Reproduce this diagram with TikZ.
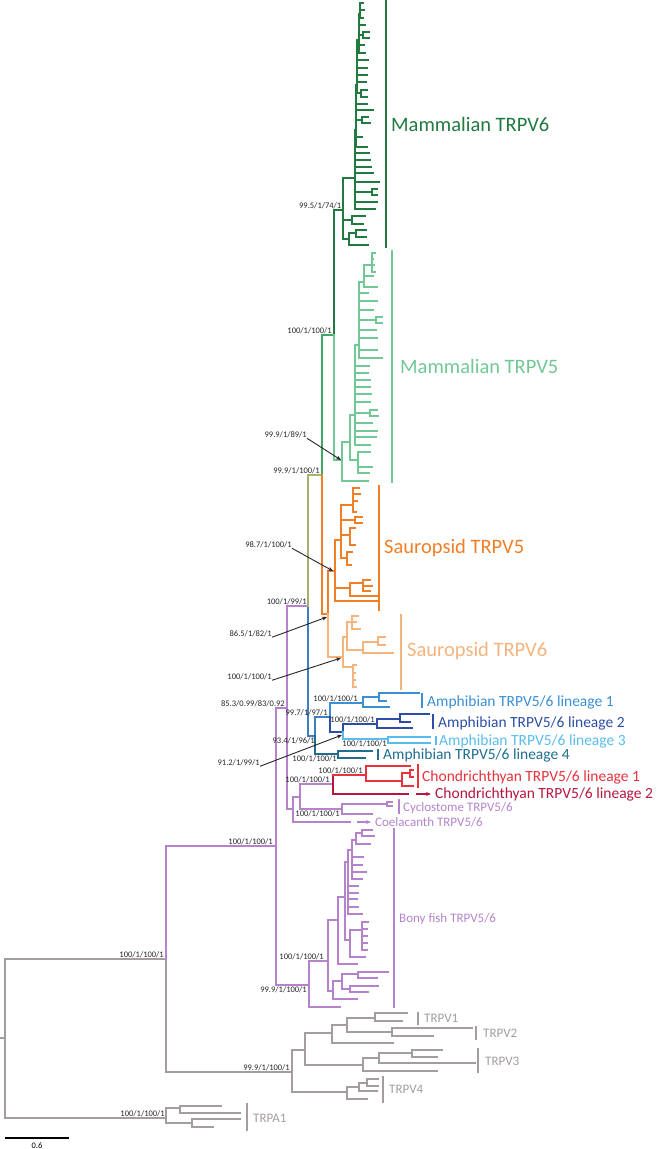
\documentclass[tikz,border=0pt]{standalone}
\usepackage{fontspec}
\setmainfont{Carlito}
\usetikzlibrary{arrows.meta, positioning, calc}

\definecolor{mamvsix}{HTML}{217A3F}
\definecolor{mamstem}{HTML}{3FA665}
\definecolor{mamvfive}{HTML}{72C895}
\definecolor{amnstem}{HTML}{A9B06F}
\definecolor{saurvfive}{HTML}{F07F28}
\definecolor{saurvsix}{HTML}{F5B47E}
\definecolor{amphstem}{HTML}{3B80C3}
\definecolor{amphone}{HTML}{3A8FD5}
\definecolor{amphtwo}{HTML}{2D4EA6}
\definecolor{amphthree}{HTML}{58BDEE}
\definecolor{amphfour}{HTML}{1F6E8E}
\definecolor{chonone}{HTML}{E8323C}
\definecolor{chontwo}{HTML}{B5173F}
\definecolor{fishpurple}{HTML}{B583CC}
\definecolor{outgray}{HTML}{A39CA0}

\begin{document}
\begin{tikzpicture}[x=1pt, y=-1pt, >=Stealth,
  br/.style={line width=1.3pt, line cap=rect},
  cbar/.style={line width=2.3pt},
  clade/.style={anchor=base west, inner sep=0pt},
  cladebig/.style={clade, font=\fontsize{20.5}{22}\selectfont},
  clademid/.style={clade, font=\fontsize{15.5}{18}\selectfont},
  cladesmall/.style={clade, font=\fontsize{13}{15}\selectfont},
  bsup/.style={anchor=base east, inner sep=0pt, text=black!85, font=\fontsize{8.5}{9}\selectfont},
  bsdown/.style={bsup, anchor=north east},
  ptr/.style={-{Stealth[length=5pt, width=4pt]}, line width=0.9pt, black!85},
  cptr/.style={-{Stealth[length=5pt, width=4pt]}, line width=1.3pt}]
  \useasboundingbox (0,0) rectangle (658,1149);

  % outgroups: TRPV1-4 and TRPA1
  \foreach \xa/\ya/\yb in {5/959/1118, 166/959/1072, 292/1050/1092, 305/1033/1065, 332/1025/1043,
      347/1018/1032, 375/1013/1021, 392/1028/1036, 363/1058/1071, 379/1053/1063, 412/1050/1057,
      347/1087/1099, 359/1083/1091, 367/1079/1086, 166/1108/1123, 180/1106/1113, 192/1119/1127}
    \draw[br, outgray] (\xa,\ya) -- (\xa,\yb);
  \foreach \xa/\yy/\xb in {0/1038/5, 5/959/166, 5/1118/166, 166/1072/292, 292/1050/305, 305/1033/332,
      332/1025/347, 347/1018/375, 375/1013/407, 375/1021/402, 347/1032/392, 392/1028/472, 392/1036/433,
      332/1043/393, 305/1065/363, 363/1058/379, 379/1053/412, 412/1050/442, 412/1057/437, 379/1063/475,
      363/1071/437, 292/1092/347, 347/1087/359, 359/1083/367, 367/1079/378, 367/1086/378, 359/1091/377,
      347/1099/367, 166/1108/180, 180/1106/221, 180/1113/240, 166/1123/192, 192/1119/240, 192/1127/213}
    \draw[br, outgray] (\xa,\yy) -- (\xb,\yy);

  % vertebrate TRPV5/6 backbone, cyclostome, coelacanth, bony fish
  \foreach \xa/\ya/\yb in {166/846/959, 276/708/985, 287/606/809, 293/797/822, 300/784/809, 342/804/814,
      387/802/806, 309/961/1007, 328/920/991, 333/981/999, 342/974/989, 358/972/978, 350/986/992,
      338/897/964, 345/862/940, 350/930/957, 362/922/950, 348/850/914, 352/840/879, 356/833/844, 362/830/836}
    \draw[br, fishpurple] (\xa,\ya) -- (\xa,\yb);
  \foreach \xa/\yy/\xb in {166/846/276, 276/708/287, 287/606/308, 287/809/293, 293/797/300, 293/822/350,
      300/784/333, 300/809/342, 342/804/387, 387/802/392, 387/806/392, 342/814/372, 276/985/309,
      309/1007/340, 309/961/328, 328/991/333, 333/999/357, 333/981/342, 342/974/358, 358/972/388,
      358/978/377, 342/989/350, 350/986/378, 350/992/368,
      328/920/338, 338/964/357, 338/897/345, 345/862/348, 345/940/350, 350/930/362, 350/957/365,
      362/922/368, 362/929/367, 362/936/367, 362/943/367, 362/950/367, 348/850/352, 348/886/358,
      348/893/358, 348/899/357, 348/907/358, 348/914/362, 352/840/356, 352/857/363, 352/865/362,
      352/872/366, 352/879/362, 356/833/362, 356/844/370, 362/830/372, 362/836/374}
    \draw[br, fishpurple] (\xa,\yy) -- (\xb,\yy);

  % chondrichthyans
  \draw[br, chontwo] (333,775) -- (333,794) (333,794) -- (408,794);
  \draw[cptr, chontwo] (416,794) -- (431,794);
  \foreach \xa/\ya/\yb in {366/766/781, 402/773/786, 410/770/777}
    \draw[br, chonone] (\xa,\ya) -- (\xa,\yb);
  \foreach \xa/\yy/\xb in {333/775/366, 366/766/410, 366/781/402, 402/773/410, 410/770/413, 410/777/413, 402/786/413}
    \draw[br, chonone] (\xa,\yy) -- (\xb,\yy);

  % amphibians
  \draw[br, amphstem] (308,606) -- (308,736) (308,736) -- (315,736) (315,717) -- (315,736) (315,717) -- (330,717);
  \draw[br, amphfour] (315,736) -- (315,754) (315,754) -- (338,754) (338,751) -- (338,758)
    (338,751) -- (372,751) (338,758) -- (365,758);
  \draw[br, amphone] (330,703) -- (330,717) (330,703) -- (363,703) (363,697) -- (363,707) (363,697) -- (379,697)
    (379,693) -- (379,701) (379,693) -- (419,693) (379,701) -- (386,701) (363,707) -- (389,707);
  \draw[br, amphtwo] (330,717) -- (330,732) (330,732) -- (343,732) (343,724) -- (343,732) (343,724) -- (377,724)
    (377,719) -- (377,728) (377,719) -- (400,719) (400,714) -- (400,722) (400,714) -- (429,714)
    (400,722) -- (410,722) (377,728) -- (412,728);
  \draw[br, amphthree] (343,732) -- (343,739) (343,739) -- (388,739) (388,737) -- (388,743)
    (388,737) -- (430,737) (388,743) -- (430,743);

  % amniote stem
  \draw[br, amnstem] (308,475) -- (308,606) (308,475) -- (322,475);
  \draw[br, mamstem] (322,335) -- (322,475) (322,335) -- (334,335);
  \draw[br, saurvfive] (322,475) -- (322,614) (322,614) -- (328,614) (328,571) -- (328,614);
  \draw[br, saurvsix] (328,614) -- (328,657);

  % mammalian TRPV6
  \foreach \xa/\ya/\yb in {334/210/335, 343/178/239, 349/233/245, 356/230/237, 352/216/224, 355/130/209,
      372/189/195, 356/85/147, 362/117/123, 357/40/93, 361/90/97, 359/14/53, 363/32/38, 360/3/18}
    \draw[br, mamvsix] (\xa,\ya) -- (\xa,\yb);
  \foreach \xa/\yy/\xb in {334/210/343, 343/239/349, 349/233/356, 356/230/366, 356/237/366, 349/245/368,
      343/220/352, 352/216/365, 352/224/363, 343/178/355, 355/130/356, 355/153/369, 355/160/370,
      355/167/371, 355/173/373, 355/182/379, 355/192/372, 372/189/377, 372/195/377, 355/202/377,
      355/209/375, 356/85/357, 356/104/367, 356/110/373, 356/120/362, 362/117/368, 362/123/370,
      356/137/362, 356/147/367, 357/40/359, 357/60/368, 357/68/367, 357/75/367, 357/82/366,
      357/93/361, 361/90/367, 361/97/367, 359/14/360, 359/25/365, 359/35/363, 363/32/369,
      363/38/369, 359/45/364, 359/53/365, 360/3/363, 360/10/364, 360/18/363}
    \draw[br, mamvsix] (\xa,\yy) -- (\xb,\yy);

  % mammalian TRPV5
  \foreach \xa/\ya/\yb in {334/335/460, 342/442/481, 350/415/460, 358/452/473, 355/345/445, 370/410/416,
      359/282/358, 376/317/323, 364/265/287, 372/253/272}
    \draw[br, mamvfive] (\xa,\ya) -- (\xa,\yb);
  \foreach \xa/\yy/\xb in {334/460/342, 342/481/368, 342/442/350, 350/460/358, 358/452/370, 358/467/372,
      358/473/369, 350/415/355, 355/445/370, 355/437/376, 355/431/377, 355/423/372, 355/413/370,
      370/410/377, 370/416/378, 355/402/370, 355/394/371, 355/387/370, 355/380/370, 355/373/368,
      355/366/369, 355/345/359, 359/358/382, 359/350/377, 359/338/377, 359/330/376, 359/320/376,
      376/317/382, 376/323/382, 359/310/373, 359/301/377, 359/293/368, 359/282/364, 364/287/377,
      364/276/373, 364/265/372, 372/253/375, 372/259/373, 372/265/374, 372/272/375}
    \draw[br, mamvfive] (\xa,\yy) -- (\xb,\yy);

  % sauropsid TRPV5
  \foreach \xa/\ya/\yb in {335/540/601, 350/583/596, 363/580/591, 341/505/558, 353/488/512, 355/517/523,
      350/528/545, 347/552/565}
    \draw[br, saurvfive] (\xa,\ya) -- (\xa,\yb);
  \foreach \xa/\yy/\xb in {328/571/335, 335/601/377, 335/588/350, 350/583/363, 363/580/370, 363/586/372,
      363/591/370, 350/596/377, 335/540/341, 341/505/353, 353/488/359, 353/494/360, 353/501/357,
      353/512/356, 341/520/355, 355/517/362, 355/523/362, 341/535/350, 350/528/355, 350/545/355,
      341/558/347, 347/552/352, 347/565/351}
    \draw[br, saurvfive] (\xa,\yy) -- (\xb,\yy);

  % sauropsid TRPV6
  \foreach \xa/\ya/\yb in {343/637/667, 347/622/650, 352/616/629, 363/642/653, 378/637/645, 353/665/687}
    \draw[br, saurvsix] (\xa,\ya) -- (\xa,\yb);
  \foreach \xa/\yy/\xb in {328/657/343, 343/637/347, 347/622/352, 352/616/358, 352/622/356, 352/629/360,
      347/650/363, 363/642/378, 378/637/385, 378/645/385, 363/653/393, 343/667/353, 353/665/356,
      353/673/355, 353/680/355, 353/687/356}
    \draw[br, saurvsix] (\xa,\yy) -- (\xb,\yy);

  % coelacanth pointer
  \draw[br, fishpurple] (293,822) -- (350,822);
  \draw[cptr, fishpurple] (357,822) -- (371,822);

  % clade bars
  \draw[cbar, mamvsix] (386,0) -- (386,248);
  \draw[cbar, mamvfive] (392,250) -- (392,483);
  \draw[cbar, saurvfive] (379,485) -- (379,611);
  \draw[cbar, saurvsix] (401,614) -- (401,690);
  \draw[cbar, amphone] (422,693) -- (422,708);
  \draw[cbar, amphtwo] (433,714) -- (433,729);
  \draw[cbar, amphthree] (436,736) -- (436,745);
  \draw[cbar, amphfour] (378,749) -- (378,760);
  \draw[cbar, chonone] (418,764) -- (418,788);
  \draw[cbar, fishpurple] (399,799) -- (399,814);
  \draw[cbar, fishpurple] (394,828) -- (394,1008);
  \draw[cbar, outgray] (418,1012) -- (418,1025);
  \draw[cbar, outgray] (476,1026) -- (476,1040);
  \draw[cbar, outgray] (478,1048) -- (478,1073);
  \draw[cbar, outgray] (383,1076) -- (383,1103);
  \draw[cbar, outgray] (247,1103) -- (247,1131);

  % clade names
  \node[cladebig, mamvsix] (nmvsix) at (391,131.6) {Mammalian TRPV6};
  \node[cladebig, mamvfive] (nmvfive) at (400,373.6) {Mammalian TRPV5};
  \node[cladebig, saurvfive] (nsvfive) at (384,553.6) {Sauropsid TRPV5};
  \node[cladebig, saurvsix] (nsvsix) at (407,656.6) {Sauropsid TRPV6};
  \node[clademid, amphone] (namone) at (427,706) {Amphibian TRPV5/6 lineage 1};
  \node[clademid, amphtwo] (namtwo) at (438,727) {Amphibian TRPV5/6 lineage 2};
  \node[clademid, amphthree] (namthree) at (439,745) {Amphibian TRPV5/6 lineage 3};
  \node[clademid, amphfour] (namfour) at (383,759) {Amphibian TRPV5/6 lineage 4};
  \node[clademid, chonone] (nchone) at (422,781) {Chondrichthyan TRPV5/6 lineage 1};
  \node[clademid, chontwo] (nchtwo) at (435,798) {Chondrichthyan TRPV5/6 lineage 2};
  \node[cladesmall, fishpurple] (ncyc) at (403,811) {Cyclostome TRPV5/6};
  \node[cladesmall, fishpurple] (ncoel) at (375,826) {Coelacanth TRPV5/6};
  \node[cladesmall, fishpurple] (nbony) at (399,922) {Bony fish TRPV5/6};
  \node[cladesmall, outgray] (nvone) at (424,1022) {TRPV1};
  \node[cladesmall, outgray] (nvtwo) at (483,1037) {TRPV2};
  \node[cladesmall, outgray] (nvthree) at (485,1065) {TRPV3};
  \node[cladesmall, outgray] (nvfour) at (389,1093) {TRPV4};
  \node[cladesmall, outgray] (naone) at (253,1122) {TRPA1};

  % node supports
  \node[bsup] (smvsix) at (341.5,208.3) {99.5/1/74/1};
  \node[bsup] (smam) at (332,333.3) {100/1/100/1};
  \node[bsup] (samn) at (320,473.3) {99.9/1/100/1};
  \node[bsup] (stet) at (307,604.3) {100/1/99/1};
  \node[bsup] (sgna) at (285,706.3) {85.3/0.99/83/0.92};
  \node[bsup] (saottw) at (328,715.3) {99.7/1/97/1};
  \node[bsup] (saone) at (358,701.3) {100/1/100/1};
  \node[bsup] (satwo) at (375,722.3) {100/1/100/1};
  \node[bsup] (schon) at (330,782.3) {100/1/100/1};
  \node[bsup] (schone) at (363,773.3) {100/1/100/1};
  \node[bsup] (svert) at (273,844.3) {100/1/100/1};
  \node[bsup] (sbonyin) at (324,959.3) {100/1/100/1};
  \node[bsup] (strpv) at (164,957.3) {100/1/100/1};
  \node[bsup] (svonefour) at (290,1070.3) {99.9/1/100/1};
  \node[bsup] (saonegrp) at (165,1116.3) {100/1/100/1};
  \node[bsdown] (samph) at (315,737.2) {93.4/1/96/1};
  \node[bsdown] (sathree) at (387,740.2) {100/1/100/1};
  \node[bsdown] (safour) at (337,755.2) {100/1/100/1};
  \node[bsdown] (scyc) at (340,810.2) {100/1/100/1};
  \node[bsdown] (sbony) at (307,986.2) {99.9/1/100/1};

  % supports pointed at by arrows
  \coordinate (tmvfive) at (341,460);
  \coordinate (tsvfive) at (333,571);
  \coordinate (tsaur) at (327,617);
  \coordinate (tsvsix) at (341,658);
  \coordinate (tattr) at (342,735);
  \node[bsup] (pmvfive) at (307,437.7) {99.9/1/89/1};
  \node[bsup] (psvfive) at (292,547.7) {98.7/1/100/1};
  \node[bsup] (psaur) at (272,636.7) {86.5/1/82/1};
  \node[bsup] (psvsix) at (272,679.7) {100/1/100/1};
  \node[bsup] (pattr) at (260,765.7) {91.2/1/99/1};
  \draw[ptr] (pmvfive.south east) -- (tmvfive);
  \draw[ptr] (psvfive.south east) -- (tsvfive);
  \draw[ptr] (psaur.south east) -- (tsaur);
  \draw[ptr] (psvsix.south east) -- (tsvsix);
  \draw[ptr] (pattr.south east) -- (tattr);

  % scale bar
  \draw[line width=1.2pt] (5,1138) -- (69,1138);
  \node[inner sep=0pt, font=\fontsize{8.5}{9}\selectfont] (scale) at (37,1146) {0.6};
\end{tikzpicture}
\end{document}
